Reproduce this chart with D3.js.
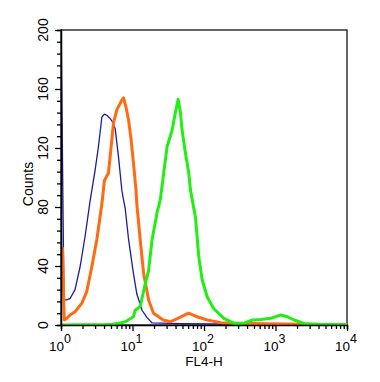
<!DOCTYPE html>
<html><head><meta charset="utf-8">
<script src="https://cdn.jsdelivr.net/npm/d3@7"></script>
<style>body{margin:0;background:#fff}text{font-family:"Liberation Sans",Arial,sans-serif;fill:#000}</style>
</head><body><svg id="c" width="380" height="382"></svg>
<script>
// FL4-H fluorescence (x) and Counts (y)
const blueX = [1.0, 1.10, 1.20, 1.34, 1.57, 1.85, 2.17, 2.55, 3.00, 3.34, 3.73, 4.05, 4.42, 4.87, 5.20, 5.73, 6.37, 7.11, 7.48, 7.91, 8.81, 10.3, 11.5, 13.6, 16.0, 18.8, 46.8, 155, 182, 10000];
const blueY = [210, 17, 17, 18, 24, 39.5, 60, 84, 105, 121, 141, 143, 142, 140, 138, 133, 114, 91, 85, 79, 58, 35, 21, 10, 5, 1.4, 1, 0.8, 0, 0];
const orangeX = [1.0, 1.05, 1.11, 1.20, 1.34, 1.57, 1.95, 2.29, 2.70, 3.17, 3.73, 4.05, 4.61, 5.03, 5.42, 6.05, 7.11, 7.48, 8.09, 8.81, 9.60, 10.3, 11.2, 11.5, 12.8, 14.3, 16.8, 19.7, 27.0, 33.9, 43.9, 60.6, 80.3, 111, 171, 450, 2260, 3100, 10000];
const orangeY = [52, 52, 3.4, 4.5, 6.8, 9, 14.7, 22.6, 39.5, 58, 82, 98, 103, 121, 137, 146, 152.5, 154, 148, 139, 125, 110, 91.5, 82, 58, 35, 17, 8, 3.4, 2.2, 4.7, 8, 5.6, 3.4, 1.6, 1, 0.5, 0, 0];
const greenX = [1.0, 4.15, 5.2, 6.73, 7.91, 10.3, 10.9, 12.8, 15.1, 16.8, 18.8, 22.0, 24.5, 27.3, 30.5, 35.8, 39.8, 43.5, 46.8, 49.4, 55.0, 61.2, 64.7, 72.0, 76.0, 84.6, 94.4, 111, 137, 190, 262, 358, 475, 621, 857, 1185, 1472, 1820, 2515, 3880, 10000];
const greenY = [0, 0.3, 0.5, 1.4, 2.2, 5.6, 10, 12.4, 28, 37, 58, 76, 85, 103, 121, 132, 144, 153, 144, 132, 116.5, 103, 91.5, 79, 73, 46, 30.5, 19, 11, 4.5, 1.1, 1.1, 3.4, 3.7, 4.5, 6.8, 5.6, 3.4, 1.1, 0.5, 0.3];
const yTicks = [0, 40, 80, 120, 160, 200];
const xTicks = [1, 10, 100, 1000, 10000];
const xTickExp = ["0", "1", "2", "3", "4"];
const xLabel = "FL4-H", yLabel = "Counts";

const svg = d3.select("#c");
const L = 61, R = 347, T = 30, B = 325;
const x = d3.scaleLog().domain([1, 10000]).range([L, R]);
const y = d3.scaleLinear().domain([0, 200]).range([B, T]);

svg.append("defs").append("clipPath").attr("id", "clip")
  .append("rect").attr("x", L).attr("y", T - 1).attr("width", R - L + 1).attr("height", B - T + 2);

// frame
svg.append("rect").attr("x", L).attr("y", T).attr("width", R - L).attr("height", B - T)
  .attr("fill", "none").attr("stroke", "#000").attr("stroke-width", 1.2);

const line = d3.line().x(d => x(d[0])).y(d => y(d[1]));
const g = svg.append("g").attr("clip-path", "url(#clip)");
const series = [
  {xs: blueX, ys: blueY, c: "#1c1c9e", w: 1.3},
  {xs: orangeX, ys: orangeY, c: "#ff6a12", w: 3},
  {xs: greenX, ys: greenY, c: "#22ee14", w: 3}
];
series.forEach(s => {
  g.append("path").datum(s.xs.map((v, i) => [v, s.ys[i]]))
    .attr("d", line).attr("fill", "none").attr("stroke", s.c)
    .attr("stroke-width", s.w).attr("stroke-linejoin", "round");
});

// y axis
const yAx = d3.axisLeft(y).tickValues(d3.range(0, 201, 8)).tickSize(4).tickFormat("");
const ya = svg.append("g").attr("transform", `translate(${L},0)`).call(yAx);
ya.select(".domain").attr("stroke", "#000").attr("stroke-width", 1.5);
ya.selectAll(".tick line").attr("stroke", "#000").attr("stroke-width", 1.3)
  .attr("x2", d => d % 40 === 0 ? -6 : -4);
yTicks.forEach(v => {
  svg.append("text").attr("transform", `translate(48,${y(v)}) rotate(-90)`)
    .attr("text-anchor", "middle").attr("font-size", 14).text(v);
});
svg.append("text").attr("transform", `translate(33,184) rotate(-90)`)
  .attr("text-anchor", "middle").attr("font-size", 14).text(yLabel);

// x axis
const minor = [];
for (let e = 0; e < 4; e++) for (let k = 1; k <= 9; k++) minor.push(k * Math.pow(10, e));
minor.push(10000);
const xAx = d3.axisBottom(x).tickValues(minor).tickSize(4).tickFormat("");
const xa = svg.append("g").attr("transform", `translate(0,${B})`).call(xAx);
xa.select(".domain").attr("stroke", "#000").attr("stroke-width", 1.5);
xa.selectAll(".tick line").attr("stroke", "#000").attr("stroke-width", 1.3)
  .attr("y2", d => xTicks.includes(d) ? 6 : 4);
xTicks.forEach((v, i) => {
  const t = svg.append("text").attr("x", x(v) - 1).attr("y", 351)
    .attr("text-anchor", "middle").attr("font-size", 13.5);
  t.append("tspan").text("10");
  t.append("tspan").attr("dy", -8).attr("font-size", 12.5).text(xTickExp[i]);
});
svg.append("text").attr("x", 204).attr("y", 366).attr("text-anchor", "middle")
  .attr("font-size", 13.5).text(xLabel);
</script></body></html>
